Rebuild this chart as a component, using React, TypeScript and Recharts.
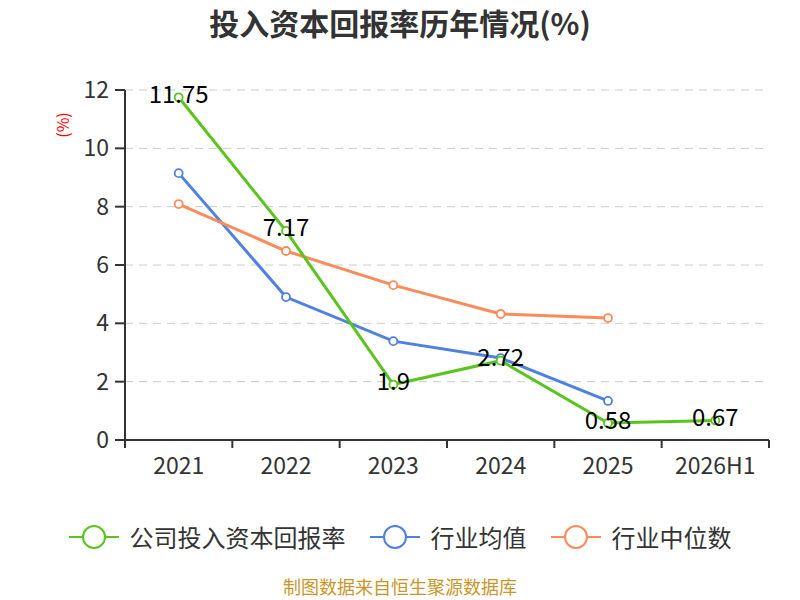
import { CartesianGrid, LabelList, Line, LineChart, XAxis, YAxis } from "recharts";

const categories = ["2021", "2022", "2023", "2024", "2025", "2026H1"];
const companyRoic = [11.75, 7.17, 1.9, 2.72, 0.58, 0.67];
const industryAvg = [9.15, 4.9, 3.39, 2.81, 1.34, null];
const industryMedian = [8.09, 6.48, 5.31, 4.32, 4.18, null];
const yTicks = [0, 2, 4, 6, 8, 10, 12];

const FONT = '"Noto Sans CJK SC", "Noto Sans", sans-serif';
const GREEN = "#5ac41f";
const BLUE = "#4f80e2";
const ORANGE = "#fd8b5a";

const CHART_W = 800;
const PLOT_LEFT = 125;
const PLOT_RIGHT = 31;
const BAND = (CHART_W - PLOT_LEFT - PLOT_RIGHT) / categories.length;

const data = categories.map((c, i) => ({
  x: i + 0.5,
  name: c,
  company: companyRoic[i],
  avg: industryAvg[i],
  median: industryMedian[i],
}));

const edgeTicks = categories.map((_, i) => i).concat(categories.length);

function XTick(props: any) {
  const { x, y, index } = props;
  if (index >= categories.length) return null;
  return (
    <text
      x={x + BAND / 2}
      y={y + 24}
      textAnchor="middle"
      fontSize={23}
      fill="#333"
      fontFamily={FONT}
    >
      {categories[index]}
    </text>
  );
}

function ValueLabel(props: any) {
  const { x, y, value } = props;
  if (value == null) return null;
  return (
    <text
      x={x}
      y={y}
      dy={-1}
      textAnchor="middle"
      dominantBaseline="middle"
      fontSize={24}
      fill="#000"
      fontFamily={FONT}
    >
      {value}
    </text>
  );
}

const dot = (color: string) => ({ r: 4, fill: "#fff", stroke: color, strokeWidth: 1.8 });

function LegendIcon({ color }: { color: string }) {
  return (
    <svg width={50} height={26} style={{ marginRight: 11 }}>
      <line x1={0} y1={13} x2={50} y2={13} stroke={color} strokeWidth={2} />
      <circle cx={25} cy={13} r={11} fill="#fff" stroke={color} strokeWidth={2} />
    </svg>
  );
}

const legendItems = [
  { label: "公司投入资本回报率", color: GREEN },
  { label: "行业均值", color: BLUE },
  { label: "行业中位数", color: ORANGE },
];

export default function App() {
  return (
    <div
      style={{
        position: "absolute",
        left: 0,
        top: 0,
        width: 800,
        height: 600,
        background: "#fff",
        fontFamily: FONT,
      }}
    >
      <div
        style={{
          position: "absolute",
          top: 0,
          width: 800,
          textAlign: "center",
          fontSize: 30,
          lineHeight: "44px",
          fontWeight: "bold",
          color: "#333",
        }}
      >
        投入资本回报率历年情况(%)
      </div>
      <div
        style={{
          position: "absolute",
          left: 49,
          top: 113,
          color: "#f00",
          fontSize: 16,
          transform: "rotate(-90deg)",
          transformOrigin: "center",
        }}
      >
        (%)
      </div>
      <LineChart
        width={800}
        height={600}
        data={data}
        margin={{ top: 90, right: PLOT_RIGHT, left: 0, bottom: 129 }}
      >
        <CartesianGrid
          vertical={false}
          horizontal
          strokeDasharray="8 6"
          stroke="#ccc"
        />
        <XAxis
          dataKey="x"
          type="number"
          domain={[0, categories.length]}
          ticks={edgeTicks}
          interval={0}
          tick={<XTick />}
          tickSize={8}
          axisLine={{ stroke: "#333", strokeWidth: 2 }}
          tickLine={{ stroke: "#333", strokeWidth: 2 }}
          height={31}
        />
        <YAxis
          width={PLOT_LEFT}
          domain={[0, 12]}
          ticks={yTicks}
          interval={0}
          tickSize={10}
          tickMargin={6}
          tick={{ fontSize: 23, fill: "#333", fontFamily: FONT }}
          axisLine={{ stroke: "#333", strokeWidth: 2 }}
          tickLine={{ stroke: "#333", strokeWidth: 2 }}
        />
        <Line
          dataKey="avg"
          stroke={BLUE}
          strokeWidth={3}
          dot={dot(BLUE)}
          isAnimationActive={false}
        />
        <Line
          dataKey="median"
          stroke={ORANGE}
          strokeWidth={3}
          dot={dot(ORANGE)}
          isAnimationActive={false}
        />
        <Line
          dataKey="company"
          stroke={GREEN}
          strokeWidth={3}
          dot={dot(GREEN)}
          isAnimationActive={false}
        >
          <LabelList dataKey="company" content={<ValueLabel />} />
        </Line>
      </LineChart>
      <div
        style={{
          position: "absolute",
          top: 519,
          width: 800,
          display: "flex",
          justifyContent: "center",
          alignItems: "center",
          fontSize: 24,
          color: "#333",
        }}
      >
        {legendItems.map((it, i) => (
          <div
            key={it.label}
            style={{ display: "flex", alignItems: "center", marginLeft: i ? 24 : 0 }}
          >
            <LegendIcon color={it.color} />
            {it.label}
          </div>
        ))}
      </div>
      <div
        style={{
          position: "absolute",
          top: 576,
          width: 800,
          textAlign: "center",
          fontSize: 18,
          lineHeight: "20px",
          color: "#c8962a",
        }}
      >
        制图数据来自恒生聚源数据库
      </div>
    </div>
  );
}
